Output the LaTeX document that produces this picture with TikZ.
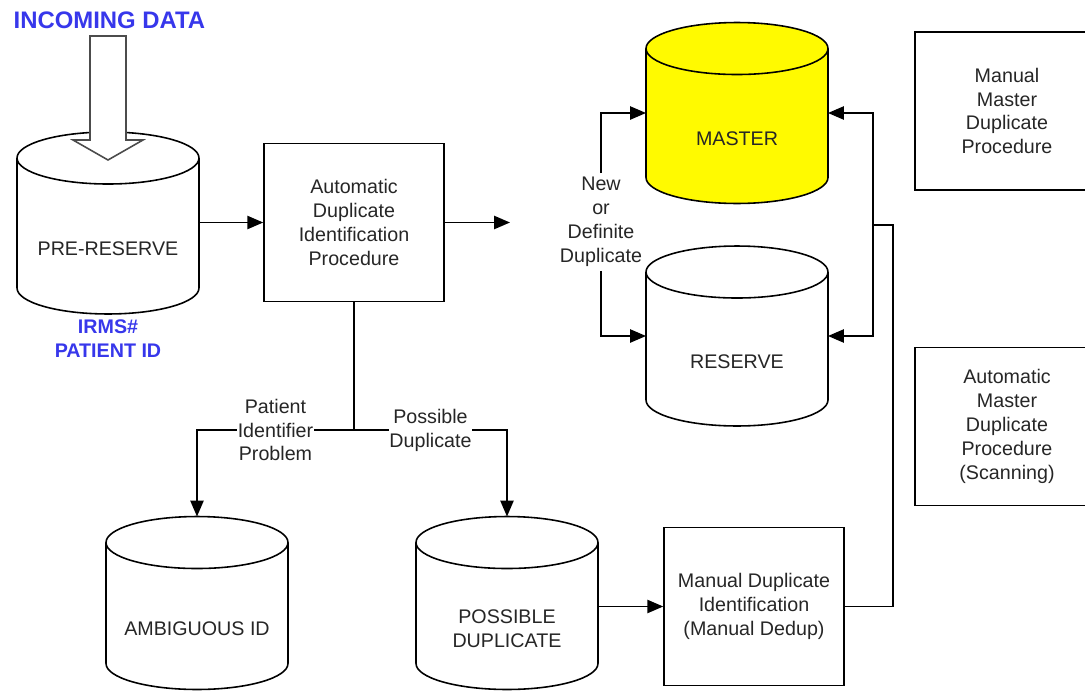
\documentclass[tikz,border=0pt]{standalone}
\usepackage{fontspec}
\setmainfont{Liberation Sans}
\usetikzlibrary{arrows.meta}

\definecolor{inkblue}{RGB}{55,55,235}
\definecolor{masteryellow}{RGB}{255,250,0}
\newcommand{\lbl}{\fontsize{11.2}{13.6}\selectfont}

\tikzset{
  >={Triangle[length=9pt,width=7.5pt]},
  proc/.style={draw, minimum width=3.6cm, minimum height=3.16cm, align=center, font=\lbl, text=black!85},
  dbbody/.style={minimum width=3.64cm, inner sep=0pt, outer sep=0pt},
  dblabel/.style={align=center, font=\lbl, text=black!85},
  tag/.style={fill=white, align=center, font=\lbl, text=black!85, inner xsep=0.5pt, inner ysep=2pt},
  title/.style={font=\fontsize{13.6}{16}\selectfont\bfseries, text=inkblue},
  idtag/.style={font=\lbl\bfseries, text=inkblue, align=center}
}

% data store: name, centre, body height, fill, text
\newcommand{\dbcyl}[5]{%
  \node[dbbody, minimum height=#3] (#1) at (#2) {};
  \filldraw[fill=#4] (#1.north west) -- (#1.south west)
    arc[start angle=180, end angle=360, x radius=1.82cm, y radius=0.52cm]
    -- (#1.north east)
    arc[start angle=0, end angle=180, x radius=1.82cm, y radius=0.52cm] -- cycle;
  \draw (#1.north west)
    arc[start angle=180, end angle=360, x radius=1.82cm, y radius=0.52cm];
  \node[dblabel] at ([yshift=-0.52cm]#1.center) {#5};
}

\begin{document}
\begin{tikzpicture}[x=0.02cm, y=0.02cm, line width=0.9pt]
  \clip (0,0) rectangle (1085,-693);

  \node[title, anchor=west] (incoming) at (7,-20) {INCOMING DATA};

  % stores
  \dbcyl{pre}{108,-223}{2.6cm}{white}{PRE-RESERVE}
  \dbcyl{master}{737,-113}{2.58cm}{masteryellow}{MASTER}
  \dbcyl{reserve}{737,-336}{2.56cm}{white}{RESERVE}
  \dbcyl{ambig}{197,-603}{2.42cm}{white}{AMBIGUOUS ID}
  \dbcyl{posdup}{507,-603}{2.42cm}{white}{POSSIBLE\\DUPLICATE}

  % hollow inflow arrow
  \filldraw[fill=white, draw=black!70] (90,-36) -- (126,-36) -- (126,-140) -- (143,-140)
    -- (108,-160) -- (73,-140) -- (90,-140) -- cycle;

  \node[idtag] (pid) at (108,-339) {IRMS\#\\PATIENT ID};

  % procedures
  \node[proc] (auto) at (354,-222.5) {Automatic\\Duplicate\\Identification\\Procedure};
  \node[proc] (dedup) at (754,-606.5) {Manual Duplicate\\Identification\\(Manual Dedup)};
  \node[proc, minimum width=3.68cm] (mmdp) at (1007,-111) {Manual\\Master\\Duplicate\\Procedure};
  \node[proc, minimum width=3.68cm] (amdp) at (1007,-426.5) {Automatic\\Master\\Duplicate\\Procedure\\(Scanning)};

  % flow
  \draw[->] (pre.east |- auto.west) -- (auto.west);
  \coordinate (outflow) at (510,-222.5);
  \draw[->] (auto.east) -- (outflow);

  \coordinate (split) at (354,-430);
  \draw (auto.south) -- (split);
  \draw[->] (split) -- node[tag] {Patient\\Identifier\\Problem} (ambig.north |- split)
    -- ([yshift=0.52cm]ambig.north);
  \draw[->] (split) -- node[tag] {Possible\\Duplicate} (posdup.north |- split)
    -- ([yshift=0.52cm]posdup.north);

  \node[tag] (newdup) at (601,-222) {New\\or\\Definite\\Duplicate};
  \draw[->] (newdup) |- (master.west);
  \draw[->] (newdup) |- (reserve.west);

  \draw[->] (posdup.east |- dedup.west) -- (dedup.west);
  \coordinate (backturn) at (893,-225);
  \coordinate (back) at (873,-225);
  \draw (dedup.east) -| (backturn) -- (back);
  \draw[->] (back) |- (master.east);
  \draw[->] (back) |- (reserve.east);
\end{tikzpicture}
\end{document}
